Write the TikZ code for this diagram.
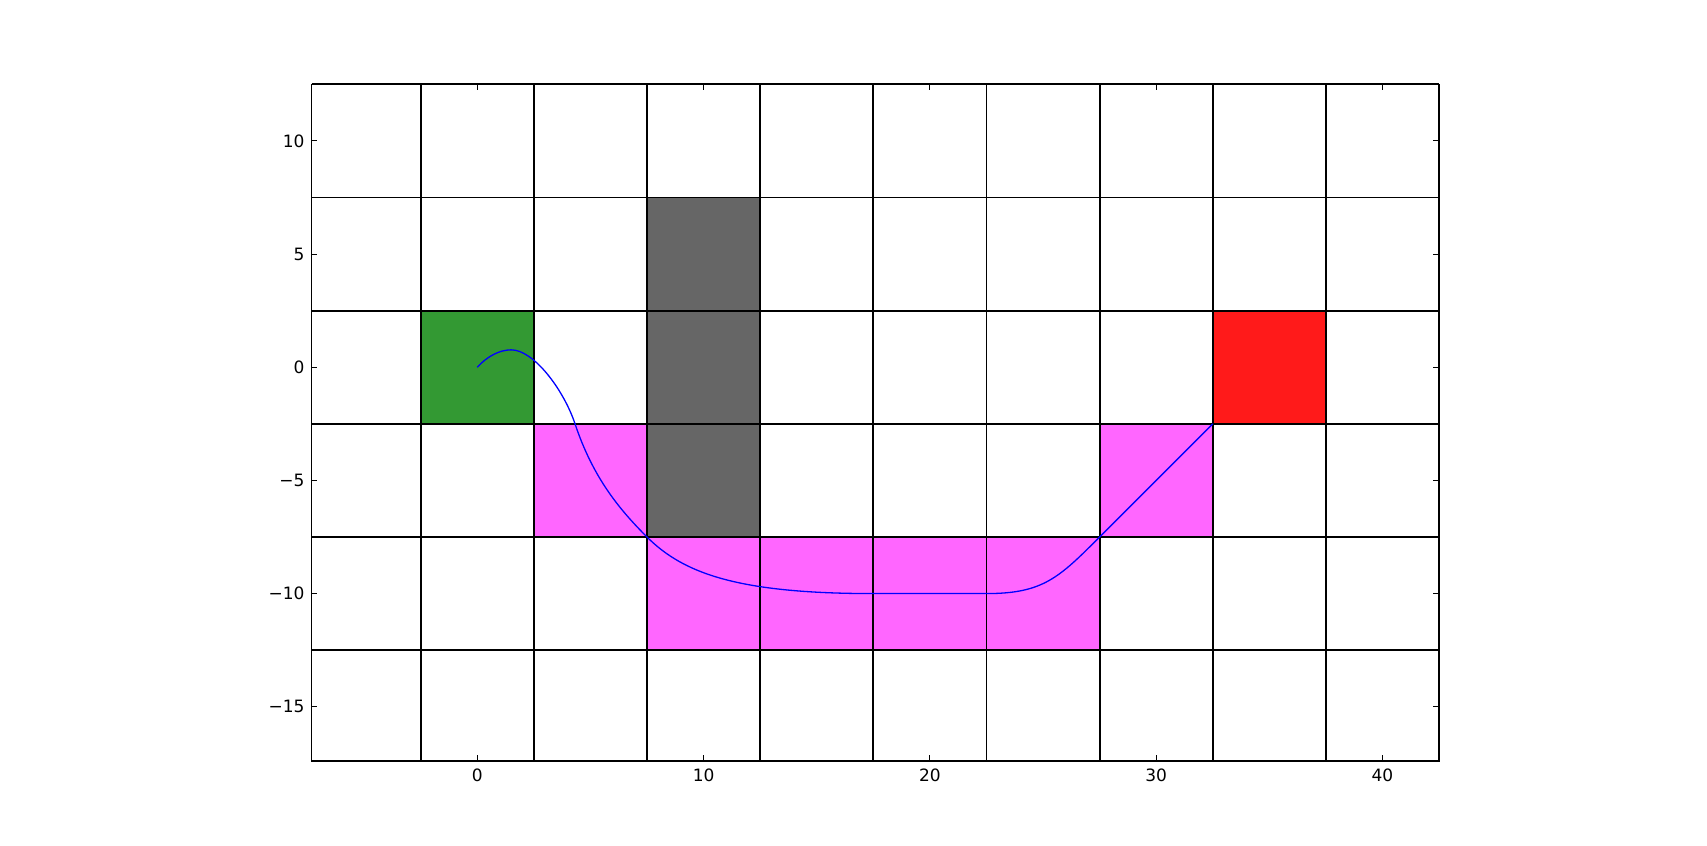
\documentclass[tikz,border=0pt]{standalone}
\usepackage{fontspec}
\setmainfont{DejaVu Sans}
\definecolor{cgreen}{RGB}{51,153,51}
\definecolor{cgray}{RGB}{102,102,102}
\definecolor{cred}{RGB}{255,26,26}
\definecolor{cmag}{RGB}{255,102,255}
\definecolor{cblue}{RGB}{0,0,255}
\begin{document}
\begin{tikzpicture}[x=11.315pt,y=11.315pt,
  gridline/.style={draw=black,line width=0.9pt},
  frame/.style={draw=black,line width=0.7pt},
  tick/.style={draw=black,line width=0.5pt},
  ticklabel/.style={inner sep=0pt,font=\fontsize{8.5}{10}\selectfont},
  path/.style={draw=cblue,line width=0.65pt}]
\useasboundingbox (-21.09,-21.15) rectangle (54.34,16.23);
\begin{scope}
\clip (-7.32,-17.4) rectangle (42.5,12.5);
% coloured cells
\fill[cgreen] (-2.5,-2.5) rectangle (2.5,2.5);
\fill[cgray] (7.5,-7.5) rectangle (12.5,7.5);
\fill[cred] (32.5,-2.5) rectangle (37.5,2.5);
\fill[cmag] (2.5,-7.5) rectangle (7.5,-2.5);
\fill[cmag] (7.5,-12.5) rectangle (27.5,-7.5);
\fill[cmag] (27.5,-7.5) rectangle (32.5,-2.5);
% grid
\foreach \x in {-2.5,2.5,...,37.5} \draw[gridline] (\x,-17.4) -- (\x,12.5);
\foreach \y in {-12.5,-7.5,...,7.5} \draw[gridline] (-7.32,\y) -- (42.5,\y);
\end{scope}
% curve
\coordinate (start) at (0,0);
\coordinate (peak) at (1.5,0.77);
\coordinate (drop) at (4.32,-2.5);
\coordinate (corner) at (7.5,-7.5);
\coordinate (flatA) at (17.5,-10);
\coordinate (flatB) at (22.5,-10);
\coordinate (bend) at (27.5,-7.5);
\coordinate (goal) at (32.5,-2.5);
\draw[path] (start) .. controls (0.45,0.5) and (1.0,0.77) .. (peak)
  .. controls (2.5,0.77) and (3.82,-1.0) .. (drop)
  .. controls (5.12,-4.9) and (6.3,-6.3) .. (corner)
  .. controls (9.1,-9.1) and (11.5,-10) .. (flatA)
  -- (flatB)
  .. controls (25,-10) and (25.7,-9.3) .. (bend)
  -- (goal);
% frame
\draw[frame] (-7.32,-17.4) rectangle (42.5,12.5);
\draw[gridline] (-7.32,12.5) -- (42.5,12.5);
\draw[gridline] (42.5,-17.4) -- (42.5,12.5);
% ticks
\foreach \x in {0,10,...,40} {
  \draw[tick] (\x,-17.4) -- ++(0,0.25);
  \draw[tick] (\x,12.5) -- ++(0,-0.25);
  \node[ticklabel,anchor=north] (xl\x) at (\x,-17.71) {\x};
}
\foreach \y/\t in {-15/−15,-10/−10,-5/−5,0/0,5/5,10/10} {
  \draw[tick] (-7.32,\y) -- ++(0.25,0);
  \draw[tick] (42.5,\y) -- ++(-0.25,0);
  \node[ticklabel,anchor=east] (yl\y) at (-7.62,\y) {\t};
}
\end{tikzpicture}
\end{document}
